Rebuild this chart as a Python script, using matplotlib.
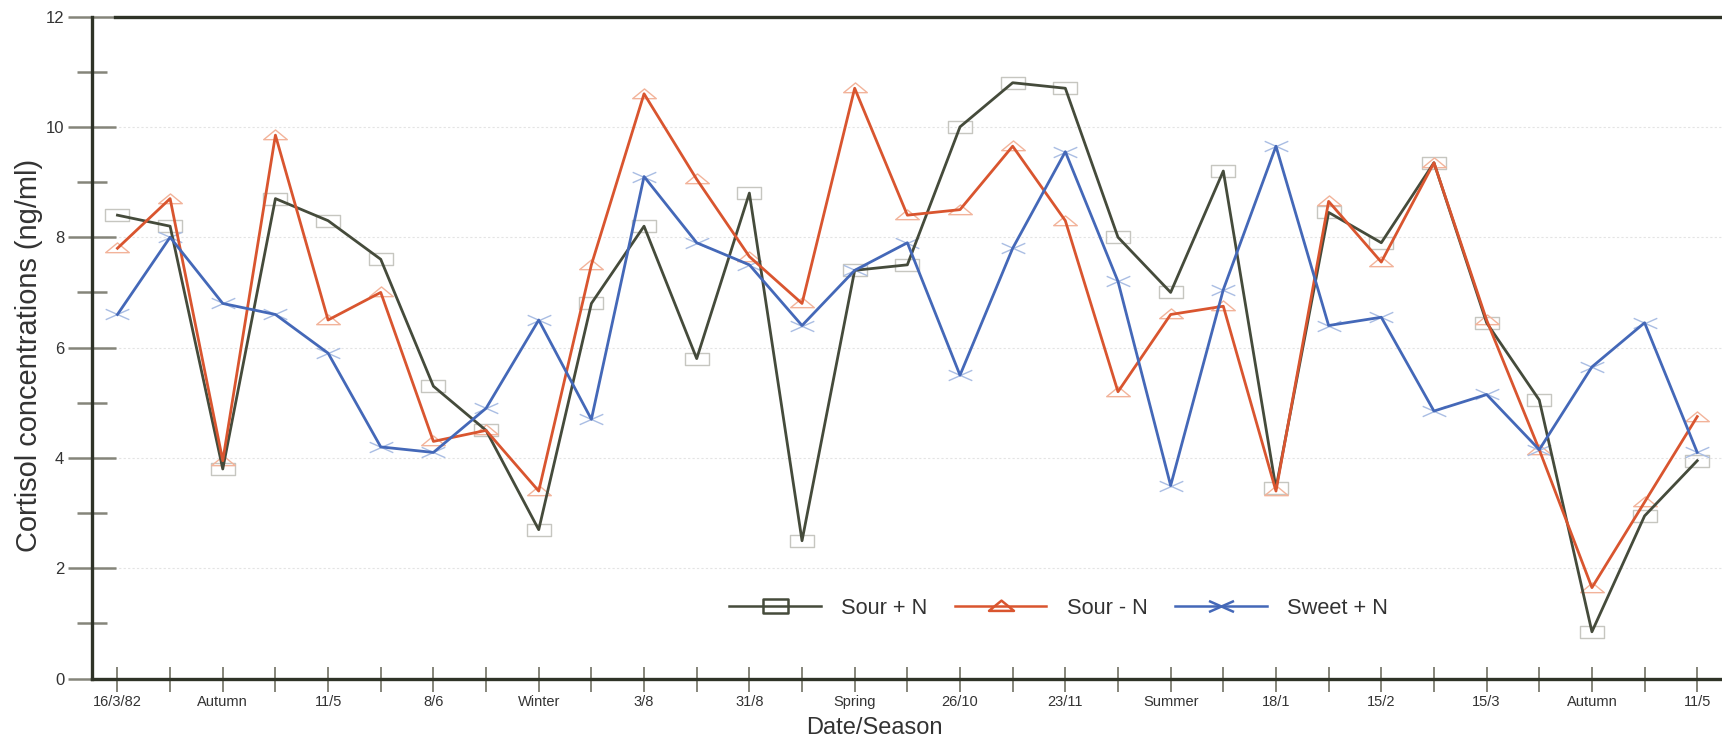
import matplotlib
matplotlib.use("Agg")
import matplotlib.pyplot as plt
from matplotlib.path import Path
from matplotlib.lines import Line2D

plt.rcParams["font.family"] = ["Liberation Sans", "DejaVu Sans"]

# Sampling dates / seasons (every second sample is labelled)
tick_labels = ["16/3/82", "Autumn", "11/5", "8/6", "Winter", "3/8", "31/8", "Spring",
               "26/10", "23/11", "Summer", "18/1", "15/2", "15/3", "Autumn", "11/5"]

# Cortisol concentrations (ng/ml)
sour_plus_n = [8.4, 8.2, 3.8, 8.7, 8.3, 7.6, 5.3, 4.5, 2.7, 6.8,
               8.2, 5.8, 8.8, 2.5, 7.4, 7.5, 10.0, 10.8, 10.7, 8.0,
               7.0, 9.2, 3.45, 8.45, 7.9, 9.35, 6.45, 5.05, 0.85, 2.95, 3.95]
sour_minus_n = [7.8, 8.7, 3.95, 9.85, 6.5, 7.0, 4.3, 4.5, 3.4, 7.5,
                10.6, 9.05, 7.65, 6.8, 10.7, 8.4, 8.5, 9.65, 8.3, 5.2,
                6.6, 6.75, 3.4, 8.65, 7.55, 9.35, 6.5, 4.15, 1.65, 3.2, 4.75]
sweet_plus_n = [6.6, 8.0, 6.8, 6.6, 5.9, 4.2, 4.1, 4.9, 6.5, 4.7,
                9.1, 7.9, 7.5, 6.4, 7.4, 7.9, 5.5, 7.8, 9.55, 7.2,
                3.5, 7.05, 9.65, 6.4, 6.55, 4.85, 5.15, 4.15, 5.65, 6.45, 4.1]

x = list(range(len(sour_plus_n)))

# Wide, flat marker shapes
rect_mk = Path([(-1.6, -0.85), (1.6, -0.85), (1.6, 0.85), (-1.6, 0.85), (-1.6, -0.85)],
               [Path.MOVETO, Path.LINETO, Path.LINETO, Path.LINETO, Path.CLOSEPOLY])
tri_mk = Path([(-1.7, -0.6), (1.7, -0.6), (0, 0.8), (-1.7, -0.6)],
              [Path.MOVETO, Path.LINETO, Path.LINETO, Path.CLOSEPOLY])
x_mk = Path([(-1.7, -0.75), (1.7, 0.75), (-1.7, 0.75), (1.7, -0.75)],
            [Path.MOVETO, Path.LINETO, Path.MOVETO, Path.LINETO])

series = [
    ("Sour + N", sour_plus_n, "#454b3b", "#c6c6c0", rect_mk),
    ("Sour - N", sour_minus_n, "#d9552f", "#f2b39a", tri_mk),
    ("Sweet + N", sweet_plus_n, "#4468b8", "#a9bde3", x_mk),
]

fig = plt.figure(figsize=(17.22, 7.44), dpi=100)
ax = fig.add_axes([0.0534, 0.0878, 0.9466, 0.890])

handles = []
for name, vals, col, pale, mk in series:
    ax.plot(x, vals, linestyle="none", marker=mk, markersize=17,
            markerfacecolor="none", markeredgecolor=pale, markeredgewidth=1.0, zorder=2)
    ax.plot(x, vals, color=col, linewidth=2.0, zorder=3)
    handles.append(Line2D([0], [0], color=col, linewidth=1.8, marker=mk, markersize=18,
                          markerfacecolor="none", markeredgecolor=col, markeredgewidth=1.8))

ax.set_xlim(-0.484, 30.47)
ax.set_ylim(0, 12)

ax.set_yticks(range(0, 13, 2))
ax.set_yticks(range(1, 12, 2), minor=True)
ax.set_xticks(x)
ax.set_xticklabels([tick_labels[i // 2] if i % 2 == 0 else "" for i in x])

ax.tick_params(axis="y", which="major", direction="inout", length=34, width=1.8,
               color="#85857a", labelsize=12, labelcolor="#333333", pad=3)
ax.tick_params(axis="y", which="minor", direction="inout", length=22, width=1.8,
               color="#85857a")
ax.tick_params(axis="x", which="major", direction="inout", length=18, width=1.4,
               color="#85857a", labelsize=10.5, labelcolor="#333333", pad=3)

for y in range(2, 12, 2):
    ax.axhline(y, color="#e4e4e4", linewidth=0.8, linestyle=(0, (2, 2)), zorder=0)

for side in ("left", "bottom"):
    ax.spines[side].set_linewidth(2.4)
    ax.spines[side].set_color("#2f3327")
ax.spines["right"].set_visible(False)
ax.spines["top"].set_linewidth(2.4)
ax.spines["top"].set_color("#2f3327")
ax.spines["top"].set_bounds(-0.05, 30.47)

ax.legend(handles, [s[0] for s in series], loc="center", bbox_to_anchor=(0.593, 0.106),
          ncol=3, frameon=False, fontsize=15.7, handlelength=4.2, handletextpad=0.95,
          columnspacing=1.25, labelcolor="#333333")

fig.text(29 / 1722, 1 - 355 / 744, "Cortisol concentrations (ng/ml)", rotation=90,
         ha="center", va="center", fontsize=20.9, color="#333333")
fig.text(874 / 1722, 1 - 728 / 744, "Date/Season", ha="center", va="center",
         fontsize=17, color="#333333")

fig.savefig("out.png", dpi=100, facecolor="white")
